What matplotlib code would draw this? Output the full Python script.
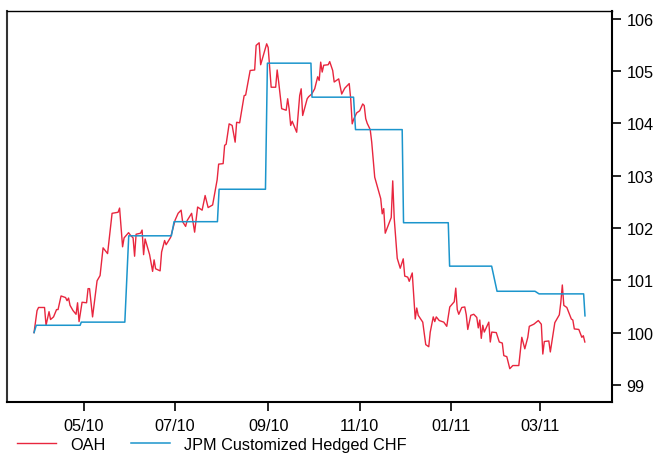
import numpy as np
import pandas as pd
import matplotlib
matplotlib.use("Agg")
import matplotlib.pyplot as plt
import matplotlib.dates as mdates

plt.rcParams['font.family'] = ['Liberation Sans', 'DejaVu Sans']

start = pd.Timestamp('2010-03-29')

# OAH: days since start, index level
oah_days = [0, 2, 3, 7, 8, 10, 11, 13, 15, 16, 18, 21, 22, 23, 24, 26, 28, 29, 30, 32,
            35, 36, 37, 39, 42, 44, 46, 49, 52, 56, 57, 59, 60, 63, 64, 66, 67, 68, 71, 72,
            73, 74, 77, 79, 80, 81, 84, 85, 87, 88, 91, 94, 96, 98, 99, 101, 102, 105, 107, 109,
            112, 114, 116, 119, 122, 123, 126, 127, 128, 130, 132, 134, 135, 137, 140, 141, 144, 147, 148, 150,
            151, 155, 156, 158, 161, 162, 163, 165, 168, 169, 170, 171, 172, 175, 177, 178, 179, 182, 183, 185,
            187, 189, 190, 191, 192, 193, 196, 197, 199, 200, 203, 204, 205, 207, 210, 211, 212, 213, 215, 217,
            219, 220, 221, 222, 224, 225, 227, 231, 232, 233, 234, 238, 239, 240, 242, 244, 246, 247, 249, 250,
            252, 254, 255, 256, 259, 261, 263, 264, 266, 267, 268, 270, 273, 275, 277, 280, 281, 282, 283, 285,
            287, 288, 289, 291, 293, 295, 296, 297, 298, 299, 300, 303, 304, 305, 308, 310, 312, 313, 315, 317,
            319, 323, 325, 327, 329, 330, 333, 336, 338, 339, 340, 343, 344, 347, 350, 351, 352, 353, 355, 358,
            359, 360, 363, 365, 366, 367]
oah_vals = [100.00, 100.42, 100.48, 100.48, 100.14, 100.40, 100.25, 100.30, 100.44, 100.44,
            100.70, 100.67, 100.61, 100.66, 100.52, 100.42, 100.35, 100.57, 100.21, 100.58,
            100.57, 100.84, 100.84, 100.30, 100.99, 101.09, 101.62, 101.51, 102.28, 102.30,
            102.38, 101.64, 101.81, 101.91, 101.87, 101.81, 101.46, 101.88, 101.90, 101.96,
            101.49, 101.79, 101.49, 101.17, 101.39, 101.22, 101.18, 101.54, 101.76, 101.68,
            101.82, 102.15, 102.28, 102.34, 102.12, 102.03, 102.14, 102.28, 101.92, 102.40,
            102.34, 102.62, 102.39, 102.44, 102.92, 103.22, 103.23, 103.58, 103.60, 103.99,
            103.96, 103.64, 104.02, 104.01, 104.53, 104.54, 105.01, 105.02, 105.49, 105.54,
            105.12, 105.52, 105.45, 104.69, 104.69, 105.02, 104.79, 104.28, 104.25, 104.47,
            104.27, 103.96, 104.04, 103.83, 104.53, 104.66, 104.15, 104.47, 104.51, 104.56,
            104.66, 104.89, 104.82, 105.17, 104.98, 105.11, 105.12, 105.18, 105.01, 104.79,
            104.85, 104.71, 104.56, 104.67, 104.76, 104.47, 103.99, 104.08, 104.20, 104.24,
            104.37, 104.34, 104.09, 104.00, 103.88, 103.64, 102.97, 102.56, 102.27, 102.37,
            101.90, 102.20, 102.90, 102.18, 101.42, 101.23, 101.41, 101.08, 101.06, 100.98,
            101.14, 100.26, 100.47, 100.33, 100.20, 99.77, 99.73, 100.01, 100.30, 100.21,
            100.30, 100.23, 100.20, 100.12, 100.49, 100.59, 100.85, 100.44, 100.35, 100.48,
            100.49, 100.34, 100.06, 100.33, 100.35, 100.29, 100.09, 100.24, 99.89, 100.14,
            100.01, 100.20, 99.82, 100.01, 100.00, 99.82, 99.80, 99.56, 99.54, 99.31,
            99.37, 99.37, 99.91, 99.69, 99.91, 100.12, 100.16, 100.23, 100.16, 99.59,
            99.83, 99.84, 99.63, 100.19, 100.34, 100.58, 100.91, 100.52, 100.48, 100.26,
            100.24, 100.07, 100.06, 99.91, 99.94, 99.82]

# JPM Customized Hedged CHF
jpm_days = [0, 1.5, 30.7, 31.5, 60.5, 63.1, 91.5, 93.3, 122.2, 123.3, 154.2, 155.5,
            184.5, 185.2, 212.9, 214.2, 245.3, 246.2, 276.0, 276.9, 304.9, 308.5,
            333.8, 336.5, 366.2, 367.1]
jpm_vals = [100.00, 100.14, 100.14, 100.20, 100.20, 101.85, 101.85, 102.12, 102.12, 102.74,
            102.74, 105.15, 105.15, 104.50, 104.50, 103.88, 103.88, 102.10, 102.10, 101.27,
            101.27, 100.79, 100.79, 100.74, 100.74, 100.32]

oah_dates = start + pd.to_timedelta(oah_days, unit='D')
jpm_dates = start + pd.to_timedelta(jpm_days, unit='D')

fig = plt.figure(figsize=(6.56, 4.56), dpi=100)
ax = fig.add_axes([0.0107, 0.117, 0.922, 0.857])

ax.plot(oah_dates, oah_vals, color='#E8263E', lw=1.0, label='OAH')
ax.plot(jpm_dates, jpm_vals, color='#1B95CC', lw=1.1, label='JPM Customized Hedged CHF')

ax.set_xlim(start - pd.Timedelta(days=18), start + pd.Timedelta(days=385))
ax.set_ylim(98.68, 106.15)

ax.yaxis.tick_right()
ax.set_yticks([99, 100, 101, 102, 103, 104, 105, 106])
ax.xaxis.set_major_locator(mdates.MonthLocator(bymonth=[1, 3, 5, 7, 9, 11]))
ax.xaxis.set_major_formatter(mdates.DateFormatter('%m/%y'))
ax.tick_params(axis='both', direction='out', length=6.5, width=1.2, labelsize=11.7, colors='black')
ax.tick_params(axis='x', pad=5)
ax.tick_params(axis='y', pad=4)

for side in ['left', 'right', 'bottom']:
    ax.spines[side].set_linewidth(1.5)
ax.spines['top'].set_linewidth(1.0)
ax.spines['left'].set_color('#333333')

fig.legend(loc='center left', bbox_to_anchor=(0.026, 0.024), ncol=2, frameon=False,
           fontsize=11.7, handlelength=2.4, columnspacing=1.6, handletextpad=0.85,
           borderaxespad=0, borderpad=0)

fig.savefig('out.png', dpi=100)
